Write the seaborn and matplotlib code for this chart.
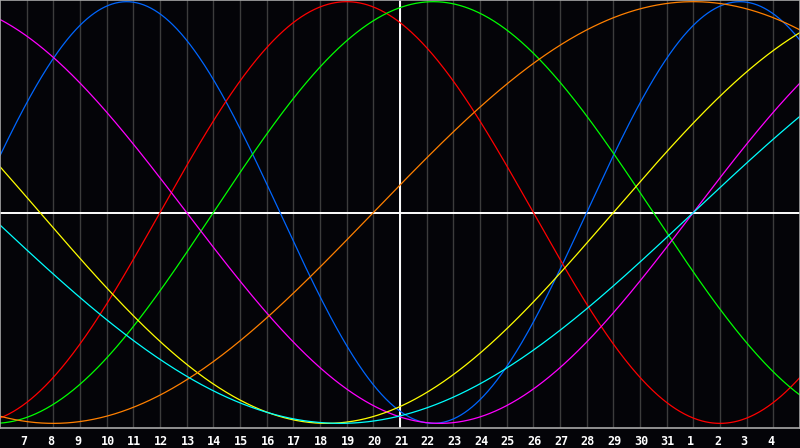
import numpy as np
import pandas as pd
import matplotlib
matplotlib.use("Agg")
import matplotlib.pyplot as plt
import matplotlib.transforms as mtransforms
import seaborn as sns

# biorhythm cycles (days) and their colours
cycles = ["Physical", "Emotional", "Intellectual", "Intuitive", "Aesthetic", "Awareness", "Spiritual"]
periods = [23, 28, 33, 38, 43, 48, 53]
colors = ["#0066ff", "#ff0000", "#00ff00", "#ff00ff", "#ffff00", "#ff8000", "#00ffff"]

# days alive on the marked day (day 21)
days_alive = 36241
today = 21

# day axis: day 6 of month to day 5 of next month
day_start, day_end = 6, 36
tick_days = list(range(7, 36))
tick_labels = [str(d) for d in range(7, 32)] + ["1", "2", "3", "4"]

days = np.linspace(day_start, day_end, 901)
rows = []
for name, p in zip(cycles, periods):
    v = np.sin(2 * np.pi * (days_alive + days - today) / p)
    rows.append(pd.DataFrame({"day": days, "value": v, "cycle": name}))
df = pd.concat(rows, ignore_index=True)

sns.set_style("dark")
bg = "#040408"
fig = plt.figure(figsize=(8, 4.48), dpi=100, facecolor=bg)
ax = fig.add_axes([0, 20 / 448, 1, 428 / 448])
ax.set_facecolor(bg)

for d in tick_days:
    ax.axvline(d, color="#3c3c3c", lw=1.0, zorder=0)
ax.axvline(today, color="white", lw=1.4, zorder=1)
ax.axhline(0, color="white", lw=1.4, zorder=1)

sns.lineplot(data=df, x="day", y="value", hue="cycle", hue_order=cycles,
             palette=colors, lw=0.9, legend=False, ax=ax, zorder=2)

ax.set_xlim(day_start, day_end)
ax.set_ylim(-1.022, 1.008)
ax.set_xticks([])
ax.set_yticks([])
ax.set_xlabel("")
ax.set_ylabel("")
ax.grid(False)

# day labels, left edge a few pixels before each day line
shift = mtransforms.ScaledTranslation(-6 / 100, -6.5 / 100, fig.dpi_scale_trans)
trans = mtransforms.blended_transform_factory(ax.transData, ax.transAxes) + shift
for d, lab in zip(tick_days, tick_labels):
    ax.text(d, 0, lab, transform=trans, ha="left", va="top", color="white",
            fontsize=8.5, family="DejaVu Sans Mono", fontweight="bold", clip_on=False)

for s in ax.spines.values():
    s.set_visible(True)
    s.set_color("#a8a8a8")
    s.set_linewidth(1.2)

fig.savefig("out.png", dpi=100, facecolor=bg)
